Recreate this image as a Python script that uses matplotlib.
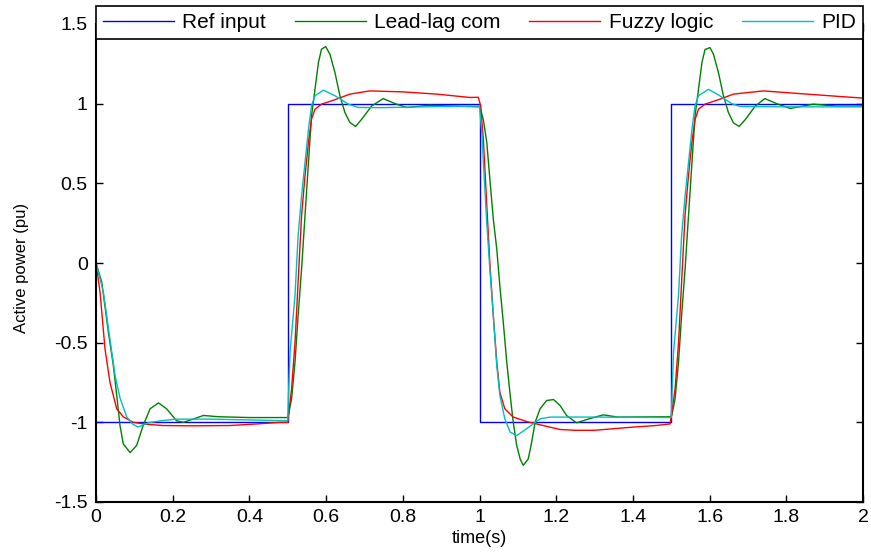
import matplotlib
matplotlib.use("Agg")
import matplotlib.pyplot as plt

plt.rcParams['font.family'] = ['Liberation Sans', 'DejaVu Sans']

# ---------------- data ----------------
t_ref = [0, 0.5, 0.5, 1.0, 1.0, 1.5, 1.5, 2.0, 2.0]
v_ref = [-1, -1, 1, 1, -1, -1, 1, 1, -1]

t_lead = [0, 0.015, 0.032, 0.045, 0.054, 0.0626, 0.071, 0.089, 0.106, 0.123, 0.141, 0.163,
          0.184, 0.21, 0.228, 0.253, 0.28, 0.32, 0.4, 0.5,
          0.502, 0.51, 0.519, 0.527, 0.536, 0.545, 0.554, 0.562, 0.571, 0.58, 0.588, 0.599,
          0.61, 0.623, 0.636, 0.649, 0.662, 0.677, 0.693, 0.719, 0.749, 0.78, 0.81, 0.87, 0.93, 1.0,
          1.001, 1.01, 1.019, 1.027, 1.036, 1.045, 1.053, 1.062, 1.071, 1.08, 1.088, 1.097,
          1.106, 1.114, 1.127, 1.136, 1.145, 1.158, 1.175, 1.193, 1.21, 1.227, 1.253, 1.29,
          1.323, 1.36, 1.5,
          1.502, 1.51, 1.519, 1.527, 1.536, 1.545, 1.554, 1.562, 1.571, 1.58, 1.588, 1.601,
          1.61, 1.623, 1.636, 1.649, 1.662, 1.677, 1.693, 1.719, 1.744, 1.775, 1.81, 1.87, 1.93, 2.0]
v_lead = [0, -0.12, -0.43, -0.64, -0.83, -1.02, -1.135, -1.19, -1.145, -1.02, -0.915, -0.878,
          -0.915, -0.99, -1.0, -0.98, -0.957, -0.965, -0.97, -0.97,
          -0.95, -0.853, -0.62, -0.33, -0.04, 0.297, 0.63, 0.924, 1.09, 1.258, 1.342, 1.358,
          1.31, 1.196, 1.05, 0.945, 0.882, 0.857, 0.903, 0.986, 1.032, 1.0, 0.976, 0.99, 0.985, 0.98,
          0.98, 0.9, 0.757, 0.527, 0.276, 0.088, -0.142, -0.372, -0.62, -0.83, -1.0, -1.145,
          -1.23, -1.27, -1.23, -1.125, -1.0, -0.915, -0.863, -0.857, -0.894, -0.957, -1.003, -0.975,
          -0.953, -0.967, -0.965,
          -0.95, -0.853, -0.62, -0.33, -0.04, 0.297, 0.63, 0.924, 1.09, 1.258, 1.34, 1.352,
          1.31, 1.196, 1.05, 0.945, 0.88, 0.857, 0.9, 0.985, 1.032, 1.0, 0.97, 0.997, 0.985, 0.985]

t_fuzzy = [0, 0.0104, 0.0235, 0.0365, 0.054, 0.071, 0.097, 0.13, 0.175, 0.25, 0.35, 0.42, 0.48, 0.5,
           0.51, 0.519, 0.527, 0.536, 0.545, 0.554, 0.562, 0.571, 0.588, 0.627, 0.662, 0.714,
           0.80, 0.888, 0.975, 0.997,
           1.003, 1.01, 1.019, 1.027, 1.036, 1.045, 1.053, 1.066, 1.088, 1.123, 1.166, 1.21,
           1.25, 1.3, 1.35, 1.4, 1.46, 1.497,
           1.51, 1.519, 1.527, 1.536, 1.545, 1.554, 1.562, 1.571, 1.588, 1.627, 1.662, 1.74,
           1.853, 1.94, 2.0]
v_fuzzy = [0, -0.18, -0.54, -0.75, -0.915, -0.965, -1.0, -1.012, -1.02, -1.022, -1.02, -1.01, -1.0, -1.0,
           -0.79, -0.497, -0.12, 0.297, 0.547, 0.757, 0.903, 0.965, 0.997, 1.028, 1.06, 1.08,
           1.074, 1.06, 1.039, 1.04,
           0.986, 0.777, 0.36, 0.0, -0.33, -0.62, -0.81, -0.915, -0.967, -0.995, -1.02, -1.045,
           -1.05, -1.05, -1.04, -1.03, -1.02, -1.01,
           -0.79, -0.5, -0.12, 0.3, 0.55, 0.76, 0.9, 0.965, 0.997, 1.028, 1.06, 1.08,
           1.06, 1.045, 1.035]

t_pid = [0, 0.019, 0.0365, 0.05, 0.063, 0.08, 0.095, 0.11, 0.136, 0.17, 0.21, 0.3, 0.4, 0.5,
         0.502, 0.506, 0.519, 0.527, 0.536, 0.545, 0.554, 0.562, 0.571, 0.593, 0.623, 0.658,
         0.684, 0.75, 0.85, 0.997,
         1.0, 1.006, 1.012, 1.019, 1.027, 1.036, 1.045, 1.053, 1.066, 1.08, 1.097, 1.123,
         1.158, 1.184, 1.3, 1.5,
         1.502, 1.506, 1.519, 1.527, 1.536, 1.545, 1.554, 1.562, 1.571, 1.597, 1.623, 1.658,
         1.68, 1.8, 2.0]
v_pid = [0, -0.18, -0.48, -0.71, -0.85, -0.965, -1.01, -1.03, -1.003, -0.99, -0.98, -0.98, -0.985, -0.99,
         -0.83, -0.56, -0.2, 0.17, 0.42, 0.63, 0.84, 0.986, 1.05, 1.085, 1.05, 0.997,
         0.976, 0.975, 0.98, 0.985,
         0.985, 0.82, 0.55, 0.25, -0.04, -0.33, -0.644, -0.83, -0.978, -1.062, -1.083, -1.04,
         -0.978, -0.967, -0.967, -0.97,
         -0.83, -0.56, -0.2, 0.17, 0.42, 0.63, 0.84, 0.986, 1.05, 1.09, 1.055, 1.0,
         0.982, 0.98, 0.98]

labels = ['Ref input', 'Lead-lag com', 'Fuzzy logic', 'PID']
colors = ['#0000FF', '#008000', '#FF0000', '#00BFBF']
x_ticks = [0, 0.2, 0.4, 0.6, 0.8, 1, 1.2, 1.4, 1.6, 1.8, 2]
x_ticklabels = ['0', '0.2', '0.4', '0.6', '0.8', '1', '1.2', '1.4', '1.6', '1.8', '2']
y_ticks = [-1.5, -1, -0.5, 0, 0.5, 1, 1.5]
y_ticklabels = ['-1.5', '-1', '-0.5', '0', '0.5', '1', '1.5']

# ---------------- figure ----------------
fig = plt.figure(figsize=(8.71, 5.56), dpi=100)
ax = fig.add_axes([96 / 871, 54 / 556, 767 / 871, 478 / 556])

series = [(t_ref, v_ref), (t_lead, v_lead), (t_fuzzy, v_fuzzy), (t_pid, v_pid)]
for (tt, vv), lab, col in zip(series, labels, colors):
    ax.plot(tt, vv, color=col, lw=1.0, label=lab)

ax.set_xlim(0, 2)
ax.set_ylim(-1.5, 1.5)
ax.set_xticks(x_ticks)
ax.set_xticklabels(x_ticklabels)
ax.set_yticks(y_ticks)
ax.set_yticklabels(y_ticklabels)
ax.tick_params(direction='in', length=5, width=1, labelsize=14, top=True, right=True)
ax.tick_params(axis='y', pad=6)
ax.tick_params(axis='x', pad=5)
for s in ax.spines.values():
    s.set_linewidth(1.5)
    s.set_color('black')

ax.set_xlabel('time(s)', fontsize=13, labelpad=3)
ax.set_ylabel('Active power (pu)', fontsize=12)
ax.yaxis.set_label_coords(-0.088, 0.49)

leg = ax.legend(loc='lower left', bbox_to_anchor=(0, 0.9686, 1, 0.069), mode='expand',
                ncol=4, borderaxespad=0, fancybox=False, framealpha=1, edgecolor='black',
                fontsize=15, handlelength=3.4, handletextpad=0.4, borderpad=0.34)
leg.get_frame().set_linewidth(1.2)
leg.set_zorder(10)

fig.savefig('out.png', dpi=100)
